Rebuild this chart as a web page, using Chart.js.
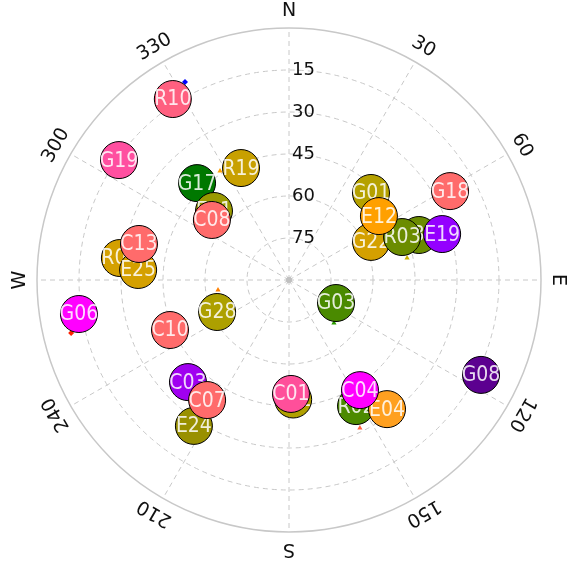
<!DOCTYPE html>
<html>
<head>
<meta charset="utf-8">
<script src="https://cdn.jsdelivr.net/npm/chart.js@4/dist/chart.umd.min.js"></script>
<style>
  html, body { margin: 0; padding: 0; background: #fff; }
  canvas { display: block; }
</style>
</head>
<body>
<canvas id="skyplot" width="568" height="566"></canvas>
<script>
// satellites, listed bottom-most first (later ones cover earlier ones)
const sats      = ["R10", "G19", "G17", "E11", "C08", "R19", "R07", "E25", "C13",
                   "G01", "G18", "G22", "E33", "R03", "E12", "E19",
                   "G03", "G08", "R02", "E04", "C04", "C02", "C01",
                   "G06", "G28", "C10", "C03", "E24", "C07"];
const azimuth   = [327.3, 305.2, 316.5, 312.6, 307.9, 336.8, 277.4, 273.8, 283.5,
                   43.3, 61.1, 65.1, 70.9, 69.2, 54.6, 73.3,
                   116.1, 116.3, 152.0, 142.8, 147.2, 178.0, 179.0,
                   260.8, 246.0, 247.2, 224.7, 213.1, 214.3];
const elevation = [13.2, 15.7, 42.3, 53.6, 55.1, 46.5, 29.1, 36.0, 34.9,
                   47.3, 24.3, 57.7, 40.9, 46.8, 50.6, 32.9,
                   71.3, 13.5, 39.0, 32.1, 43.2, 47.3, 49.3,
                   14.0, 61.9, 43.9, 38.7, 27.8, 38.1];
const satColors = ["#ff6080", "#ff4fa0", "#007800", "#9a9a00", "#ff6b6b", "#c8a000", "#d4a000", "#d4a000", "#ff6b6b",
                   "#b5a100", "#ff6b6b", "#d4a000", "#6b8c00", "#6b8c00", "#ffa000", "#9400ff",
                   "#4a8a00", "#5c0090", "#4c8a00", "#ffa020", "#ff00ff", "#b0a000", "#ff4f9a",
                   "#ff00ff", "#ada000", "#ff6b6b", "#a000f0", "#999000", "#ff6b6b"];

// small trail markers
const trailAz     = [332.3, 327.7, 256.3, 262.0, 133.7, 154.4, 79.4, 74.8];
const trailEl     = [10.1, 43.9, 9.9, 64.4, 67.8, 31.4, 47.1, 60.0];
const trailColors = ["#0000ff", "#ffa000", "#ff2000", "#ff8000", "#2a9a00", "#ff6040", "#c8b000", "#d4a000"];
const trailShapes = ["rectRot", "triangle", "rectRot", "triangle", "triangle", "triangle", "triangle", "triangle"];

const elevTicks = [15, 30, 45, 60, 75];
const azTicks   = ["N", "30", "60", "E", "120", "150", "S", "210", "240", "W", "300", "330"];

function toXY(az, el) {
  const r = 90 - el, a = az * Math.PI / 180;
  return { x: r * Math.sin(a), y: r * Math.cos(a) };
}

const datasets = sats.map(function (name, i) {
  return {
    label: name,
    data: [toXY(azimuth[i], elevation[i])],
    backgroundColor: satColors[i],
    borderColor: "#000",
    borderWidth: 1,
    pointRadius: 18.5,
    pointHoverRadius: 18.5,
    order: sats.length - i,
    clip: false
  };
});
datasets.push({
  label: "trail",
  data: trailAz.map(function (a, i) { return toXY(a, trailEl[i]); }),
  backgroundColor: trailColors,
  borderColor: trailColors,
  pointStyle: trailShapes,
  pointRadius: 3,
  borderWidth: 0,
  order: sats.length + 10,
  clip: false
});

const gridPlugin = {
  id: "skyGrid",
  beforeDatasetsDraw(chart) {
    const ctx = chart.ctx, x = chart.scales.x, y = chart.scales.y;
    const cx = x.getPixelForValue(0), cy = y.getPixelForValue(0);
    const unit = x.getPixelForValue(1) - cx;
    const R = 90 * unit;
    ctx.save();
    ctx.strokeStyle = "#c8c8c8";
    ctx.lineWidth = 1;
    ctx.setLineDash([5, 4]);
    elevTicks.forEach(function (e) {
      ctx.beginPath();
      ctx.arc(cx, cy, (90 - e) * unit, 0, Math.PI * 2);
      ctx.stroke();
    });
    for (let a = 0; a < 360; a += 30) {
      const t = a * Math.PI / 180;
      ctx.beginPath();
      ctx.moveTo(cx, cy);
      ctx.lineTo(cx + R * Math.sin(t), cy - R * Math.cos(t));
      ctx.stroke();
    }
    ctx.setLineDash([]);
    ctx.lineWidth = 1.5;
    ctx.beginPath();
    ctx.arc(cx, cy, R, 0, Math.PI * 2);
    ctx.stroke();
    ctx.fillStyle = "#c0c0c0";
    ctx.beginPath();
    ctx.arc(cx, cy, 3, 0, Math.PI * 2);
    ctx.fill();

    ctx.fillStyle = "#111";
    ctx.font = "18px 'DejaVu Sans'";
    ctx.textAlign = "left";
    ctx.textBaseline = "middle";
    elevTicks.forEach(function (e) {
      ctx.fillText(String(e), cx + 3, cy - (90 - e) * unit);
    });

    ctx.font = "19px 'DejaVu Sans'";
    ctx.textAlign = "center";
    azTicks.forEach(function (lbl, i) {
      ctx.save();
      ctx.translate(cx, cy);
      ctx.rotate(i * 30 * Math.PI / 180);
      ctx.fillText(lbl, 0, -R - 17);
      ctx.restore();
    });
    ctx.restore();
  },
  afterDatasetDraw(chart, args) {
    const ds = chart.data.datasets[args.index];
    if (ds.label === "trail") return;
    const pt = args.meta.data[0];
    const ctx = chart.ctx;
    ctx.save();
    ctx.font = "21px 'DejaVu Sans Condensed', 'DejaVu Sans'";
    ctx.fillStyle = "rgba(255,255,255,0.85)";
    ctx.textAlign = "center";
    ctx.textBaseline = "middle";
    ctx.fillText(ds.label, pt.x, pt.y + 1);
    ctx.restore();
  }
};

new Chart("skyplot", {
  type: "scatter",
  data: { datasets: datasets },
  options: {
    responsive: false,
    animation: false,
    layout: { padding: { left: 37, right: 27, top: 28, bottom: 34 } },
    scales: {
      x: { type: "linear", min: -90, max: 90, display: false },
      y: { type: "linear", min: -90, max: 90, display: false }
    },
    plugins: { legend: { display: false }, tooltip: { enabled: false } }
  },
  plugins: [gridPlugin]
});
</script>
</body>
</html>
